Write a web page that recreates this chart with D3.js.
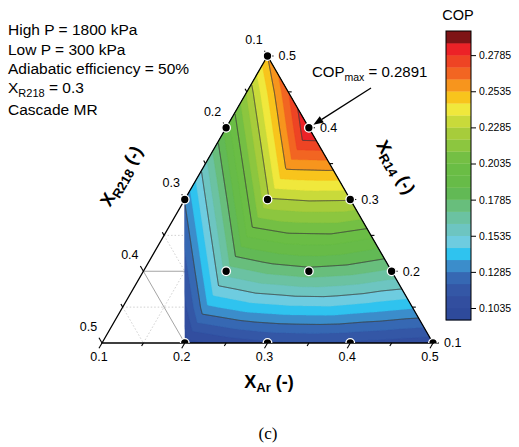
<!DOCTYPE html>
<html><head><meta charset="utf-8">
<script src="https://cdn.jsdelivr.net/npm/d3@7"></script>
<style>body{margin:0;background:#fff} svg{display:block;font-family:Arial,"Liberation Sans",sans-serif}</style>
</head><body><svg id="c" width="519" height="447"></svg>
<script>
// ---- data (COP on a 0.05 composition grid; rows = X_R14, columns = X_Ar from 0.10) ----
const arLevels  = [0.10,0.15,0.20,0.25,0.30,0.35,0.40,0.45,0.50];
const r14Levels = [0.10,0.15,0.20,0.25,0.30,0.35,0.40,0.45,0.50];
const copR14_010 = [0.030,0.055,0.100,0.106,0.110,0.111,0.110,0.108,0.106];
const copR14_015 = [0.037,0.086,0.1348,0.141,0.1435,0.144,0.141,0.1377];
const copR14_020 = [0.068,0.117,0.1655,0.172,0.175,0.173,0.168];
const copR14_025 = [0.099,0.1475,0.196,0.2015,0.202,0.197];
const copR14_030 = [0.1295,0.178,0.2271,0.2292,0.2288];
const copR14_035 = [0.160,0.209,0.2578,0.2587];
const copR14_040 = [0.191,0.2397,0.2891];
const copR14_045 = [0.2216,0.2704];
const copR14_050 = [0.254];
const copRows = [copR14_010,copR14_015,copR14_020,copR14_025,copR14_030,copR14_035,copR14_040,copR14_045,copR14_050];

// simulated mixtures (dots)
const dotAr  = [0.2,0.3,0.4,0.5, 0.2,0.3,0.4, 0.1,0.2,0.3, 0.1,0.2, 0.1];
const dotR14 = [0.1,0.1,0.1,0.1, 0.2,0.2,0.2, 0.3,0.3,0.3, 0.4,0.4, 0.5];
// data region (hull)
const hullAr  = [0.2,0.5,0.1,0.1];
const hullR14 = [0.1,0.1,0.5,0.3];

const axisTicks  = [0.1,0.2,0.3,0.4,0.5];
const minorTicks = [0.15,0.25,0.35,0.45];
const cbTicks = [0.1035,0.1285,0.1535,0.1785,0.2035,0.2285,0.2535,0.2785];
const lineLevels = [0.1285,0.1535,0.1785,0.2035,0.2285,0.2535,0.2785];
const levelMin = 0.0952, levelStep = 0.2/24;
const bandColors = ['#2e4a9b','#324e9f','#3457a6','#3668b3','#3b8dcb','#2fc3ef','#6ecce0','#6dc5c1',
  '#6bc2a2','#68be7c','#62b955','#67bb48','#6abd45','#74bf44','#8cc63f','#a7cc3b',
  '#c9da3a','#f0e83c','#f8c41c','#f7951d','#f26522','#ee4424','#ec2227','#7e1416'];
const notes = ['High P = 1800 kPa','Low P = 300 kPa','Adiabatic efficiency = 50%'];
const copMax = 0.2891, copMaxAr = 0.2, copMaxR14 = 0.4;

// ---- scales ----
const xOf = d3.scaleLinear().domain([0.1,0.5]).range([102,433]);
const yOf = d3.scaleLinear().domain([0.1,0.5]).range([343,56]);
const P = (ar,r14) => [xOf(ar) + (xOf(r14)-xOf(0.1))/2, yOf(r14)];

const svg = d3.select('#c');
const defs = svg.append('defs');
defs.append('clipPath').attr('id','hull').append('polygon')
  .attr('points', hullAr.map((a,i)=>P(a,hullR14[i]).join(',')).join(' '));
defs.append('clipPath').attr('id','above').append('rect').attr('x',0).attr('y',0).attr('width',519).attr('height',343);

// ---- grid lines in white region ----
const grid = svg.append('g');
[0.15,0.2,0.25,0.3,0.35,0.4,0.45].forEach(t=>{
  const major = Math.abs(t*10-Math.round(t*10))<1e-6;
  const segs = [[P(0.1,t),P(0.6-t,t)],[P(0.1,0.6-t),P(0.6-t,0.1)],[P(t,0.1),P(t,0.6-t)]];
  segs.forEach(s=>grid.append('line').attr('x1',s[0][0]).attr('y1',s[0][1]).attr('x2',s[1][0]).attr('y2',s[1][1])
    .attr('stroke', major?'#9a9a9a':'#c4c4c4').attr('stroke-width', major?0.9:0.8)
    .attr('stroke-dasharray', major?null:'1.5,2'));
});

// ---- interpolated field ----
function F(i,j){ return copRows[j][i]; }
function copAt(p,q){
  let j = Math.min(Math.floor(q),7); if(j<0) j=0;
  let i = Math.min(Math.floor(p),7-j); if(i<0) i=0;
  const fp=p-i, fq=q-j;
  if (fp+fq<=1 || i+j>=7) return F(i,j)+fp*(F(i+1,j)-F(i,j))+fq*(F(i,j+1)-F(i,j));
  return F(i+1,j+1)+(1-fp)*(F(i,j+1)-F(i+1,j+1))+(1-fq)*(F(i+1,j)-F(i+1,j+1));
}
const x0=96, y0=50, W=344, H=300;
const vals = new Float64Array(W*H);
for(let gy=0; gy<H; gy++){
  for(let gx=0; gx<W; gx++){
    const x=x0+gx, y=y0+gy;
    let r14 = yOf.invert(y);
    let ar = xOf.invert(x - (xOf(r14)-xOf(0.1))/2);
    let q = (r14-0.1)/0.05, p = (ar-0.1)/0.05;
    q = Math.max(0,Math.min(8,q)); p = Math.max(0,p); if(p+q>8) p = 8-q;
    vals[gy*W+gx] = copAt(p,q);
  }
}
const fillThr = bandColors.map((c,k)=> k===0 ? -1 : levelMin + k*levelStep);
const fills = d3.contours().size([W,H]).thresholds(fillThr)(vals);
const path = d3.geoPath();
const cg = svg.append('g').attr('clip-path','url(#hull)');
const inner = cg.append('g').attr('transform',`translate(${x0},${y0})`);
inner.selectAll('path.f').data(fills).join('path').attr('class','f')
  .attr('d',path).attr('fill',(d,k)=>bandColors[k]).attr('stroke',(d,k)=>bandColors[k]).attr('stroke-width',0.3);
const lines = d3.contours().size([W,H]).thresholds(lineLevels)(vals);
inner.selectAll('path.l').data(lines).join('path').attr('class','l')
  .attr('d',path).attr('fill','none').attr('stroke','#3c3c3c').attr('stroke-width',0.9);

// ---- triangle axes ----
const A = P(0.1,0.5), BL = P(0.1,0.1), BR = P(0.5,0.1);
svg.append('polygon').attr('points',[A,BL,BR].map(d=>d.join(',')).join(' '))
  .attr('fill','none').attr('stroke','#000').attr('stroke-width',1.3);

const tk = svg.append('g').attr('stroke','#000').attr('stroke-width',1.1);
const fmt = d3.format('.1f');
function tick(pt,dir,len){ tk.append('line').attr('x1',pt[0]).attr('y1',pt[1]).attr('x2',pt[0]+dir[0]*len).attr('y2',pt[1]+dir[1]*len); }
const dB=[-0.5,0.866], dL=[-0.5,-0.866], dR=[1,0];
axisTicks.forEach(t=>{ tick(P(t,0.1),dB,6); tick(P(0.1,0.6-t),dL,6); tick(P(0.6-t,t),dR,6); });
minorTicks.forEach(t=>{ tick(P(t,0.1),dB,3.5); tick(P(0.1,0.6-t),dL,3.5); tick(P(0.6-t,t),dR,3.5); });
const lab = svg.append('g').attr('font-size','12.5px').attr('fill','#000');
axisTicks.forEach(t=>{
  const b=P(t,0.1); lab.append('text').attr('x',b[0]-3).attr('y',361).attr('text-anchor','middle').text(fmt(t));
  const l=P(0.1,0.6-t); lab.append('text').attr('x',l[0]-13.5).attr('y',l[1]-16.5).attr('dy','0.35em').attr('text-anchor','middle').text(fmt(t));
  const r=P(0.6-t,t); lab.append('text').attr('x',r[0]+11).attr('y',r[1]).attr('dy','0.35em').text(fmt(t));
});

// ---- dots ----
svg.append('g').attr('clip-path','url(#above)').selectAll('circle').data(dotAr).join('circle')
  .attr('cx',(d,i)=>P(d,dotR14[i])[0]).attr('cy',(d,i)=>P(d,dotR14[i])[1])
  .attr('r',4.3).attr('fill','#000').attr('stroke','#fff').attr('stroke-width',1.3);

// ---- axis titles ----
function title(x,y,rot,sub){
  const t = svg.append('text').attr('transform',`translate(${x},${y}) rotate(${rot})`)
    .attr('text-anchor','middle').attr('font-weight','bold').attr('font-size','18px').attr('dy','0.35em');
  t.append('tspan').text('X');
  t.append('tspan').attr('font-size','13px').attr('dy',4).text(sub);
  t.append('tspan').attr('dy',-4).text(' (-)');
}
title(269,382,0,'Ar');
title(121,176,-60,'R218');
title(396,167,60,'R14');

// ---- annotation ----
const ann = svg.append('g').attr('font-size','15.5px');
notes.forEach((s,i)=>ann.append('text').attr('x',8).attr('y',35+i*19.5).text(s));
const xr = ann.append('text').attr('x',8).attr('y',93);
xr.append('tspan').text('X'); xr.append('tspan').attr('font-size','11px').attr('dy',4).text('R218');
xr.append('tspan').attr('dy',-4).text(' = 0.3');
ann.append('text').attr('x',8).attr('y',115).text('Cascade MR');

// COP max callout
const cm = svg.append('text').attr('x',312).attr('y',77).attr('font-size','15px');
cm.append('tspan').text('COP'); cm.append('tspan').attr('font-size','10.5px').attr('dy',4).text('max');
cm.append('tspan').attr('dy',-4).text(' = ' + copMax.toFixed(4));
const tip = P(copMaxAr,copMaxR14); const tipPt=[tip[0]+4.5,tip[1]-3];
const st=[371,88]; const dx=tipPt[0]-st[0], dy=tipPt[1]-st[1], L=Math.hypot(dx,dy), ux=dx/L, uy=dy/L;
const base=[tipPt[0]-ux*10, tipPt[1]-uy*10];
svg.append('line').attr('x1',st[0]).attr('y1',st[1]).attr('x2',base[0]).attr('y2',base[1]).attr('stroke','#000').attr('stroke-width',1.3);
svg.append('polygon').attr('points',[tipPt,[base[0]-uy*3.8,base[1]+ux*3.8],[base[0]+uy*3.8,base[1]-ux*3.8]].map(d=>d.join(',')).join(' ')).attr('fill','#000');

// ---- colorbar ----
const cbY = d3.scaleLinear().domain([levelMin, levelMin+24*levelStep]).range([320,31]);
const cb = svg.append('g');
cb.selectAll('rect').data(bandColors).join('rect').attr('x',446).attr('width',25)
  .attr('y',(c,k)=>cbY(levelMin+(k+1)*levelStep)).attr('height',(c,k)=>cbY(levelMin+k*levelStep)-cbY(levelMin+(k+1)*levelStep)+0.3)
  .attr('fill',c=>c);
cb.append('rect').attr('x',446).attr('y',31).attr('width',25).attr('height',289).attr('fill','none').attr('stroke','#000').attr('stroke-width',1);
const cax = svg.append('g').attr('transform','translate(471,0)')
  .call(d3.axisRight(cbY).tickValues(cbTicks).tickFormat(d3.format('.4f')).tickSize(5).tickPadding(3));
cax.select('.domain').remove();
cax.selectAll('text').attr('font-size','10.5px').attr('font-family','Arial,"Liberation Sans",sans-serif').attr('fill','#000');
cax.selectAll('line').attr('stroke','#000');
svg.append('text').attr('x',458).attr('y',20).attr('text-anchor','middle').attr('font-size','14.5px').text('COP');

// caption
svg.append('text').attr('x',268).attr('y',439).attr('text-anchor','middle')
  .attr('font-family','"Liberation Serif","Times New Roman",serif').attr('font-size','17px').text('(c)');
</script></body></html>
